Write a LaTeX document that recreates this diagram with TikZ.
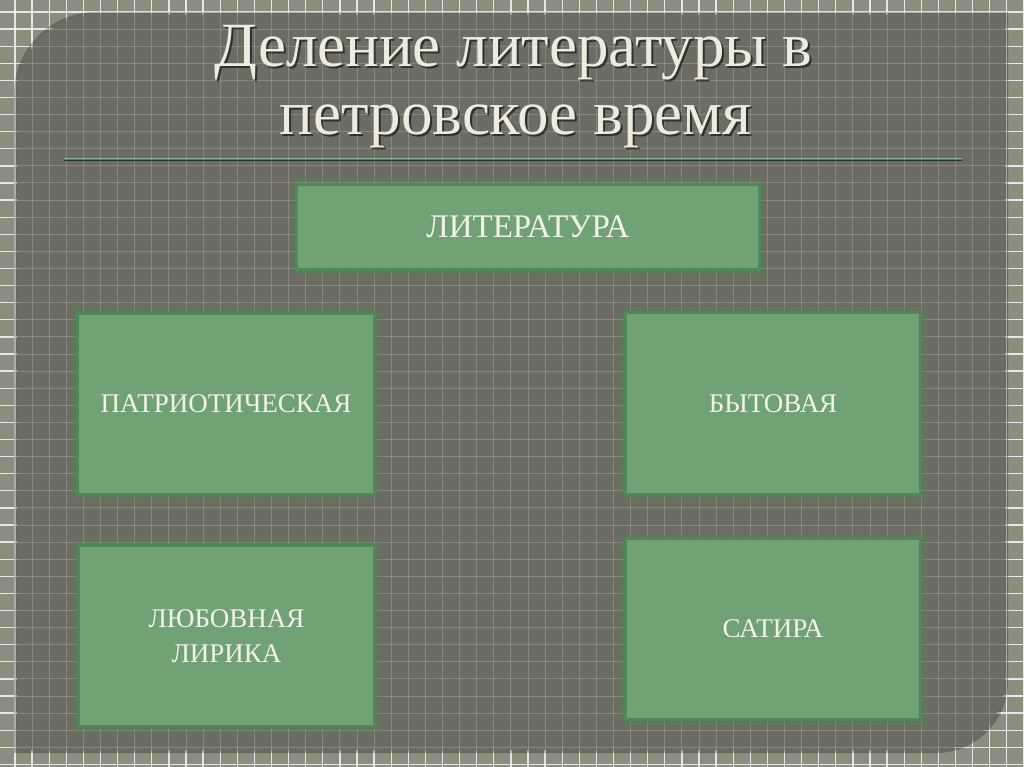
\documentclass[tikz,border=0pt]{standalone}
\usepackage{fontspec}
\setmainfont{Liberation Serif}
\definecolor{outerbg}{HTML}{8B8D7F}
\definecolor{panelc}{HTML}{6C6C62}
\definecolor{boxfill}{HTML}{71A276}
\definecolor{boxborder}{HTML}{4E8A58}
\definecolor{textc}{HTML}{F3F3EA}
\definecolor{titlec}{HTML}{ECEBDC}
\definecolor{sepgreen}{HTML}{86B38E}
\definecolor{sepdark}{HTML}{2A3328}
\tikzset{
  box/.style={draw=boxborder, fill=boxfill, line width=3pt, text=textc,
    font=\fontsize{27}{35}\selectfont, align=center, inner sep=0pt, outer sep=0pt},
  glow/.style={draw=boxborder, line width=9pt, opacity=0.25},
  titletext/.style={text=titlec, font=\fontsize{63}{66}\selectfont, anchor=base, inner sep=0pt},
  titleshadow/.style={text=black, opacity=0.55, font=\fontsize{63}{66}\selectfont, anchor=base, inner sep=0pt},
  gridout/.style={draw=white, line width=1.3pt, opacity=0.8},
  gridin/.style={draw=white, line width=1pt, opacity=0.18},
}
\begin{document}
\begin{tikzpicture}[x=1pt,y=-1pt]
\useasboundingbox (0,0) rectangle (1024,767);
% outer background
\fill[outerbg] (0,0) rectangle (1024,767);
\foreach \k in {0,...,59} { \draw[gridout] ({15+17.1*\k},0) -- ({15+17.1*\k},767); }
\foreach \k in {0,...,44} { \draw[gridout] (0,{12+17.1*\k}) -- (1024,{12+17.1*\k}); }
% panel shadow
\fill[black, opacity=0.25] (14,753) -- (14,300) [rounded corners=82pt] -- (14,12) -- (500,12) [sharp corners] -- (1008,12) -- (1008,400) [rounded corners=72pt] -- (1008,753) -- (600,753) [sharp corners] -- cycle;
% panel
\fill[panelc] (17,750) -- (17,300) [rounded corners=80pt] -- (17,15) -- (500,15) [sharp corners] -- (1005,15) -- (1005,400) [rounded corners=70pt] -- (1005,750) -- (600,750) [sharp corners] -- cycle;
\begin{scope}
\clip (17,750) -- (17,300) [rounded corners=80pt] -- (17,15) -- (500,15) [sharp corners] -- (1005,15) -- (1005,400) [rounded corners=70pt] -- (1005,750) -- (600,750) [sharp corners] -- cycle;
\foreach \k in {0,...,59} { \draw[gridin] ({15+17.1*\k},0) -- ({15+17.1*\k},767); }
\foreach \k in {0,...,44} { \draw[gridin] (0,{12+17.1*\k}) -- (1024,{12+17.1*\k}); }
\end{scope}
% title
\node[titleshadow] (t1s) at (515.5,69) {Деление литературы в};
\node[titletext] (t1) at (513.5,67) {Деление литературы в};
\node[titleshadow] (t2s) at (517.5,137) {петровское время};
\node[titletext] (t2) at (515.5,135) {петровское время};
% separator
\coordinate (sepL) at (64,158.3);
\coordinate (sepR) at (962,158.3);
\coordinate (sepL2) at (64,160.5);
\coordinate (sepR2) at (962,160.5);
\draw[sepgreen, line width=1.3pt] (sepL) -- (sepR);
\draw[sepdark, line width=1.6pt] (sepL2) -- (sepR2);
% boxes glow
\draw[glow] (295,183) rectangle (761,271);
\draw[glow] (76,312) rectangle (376,496);
\draw[glow] (624,311) rectangle (922,496);
\draw[glow] (77,544) rectangle (376,728);
\draw[glow] (624,537) rectangle (922,721);
% boxes
\node[box, minimum width=463pt, minimum height=85pt, font=\fontsize{33}{35}\selectfont] (lit) at (528,227) {ЛИТЕРАТУРА};
\node[box, minimum width=297pt, minimum height=181pt] (pat) at (226,404) {ПАТРИОТИЧЕСКАЯ};
\node[box, minimum width=295pt, minimum height=182pt] (byt) at (773,403.5) {БЫТОВАЯ};
\node[box, minimum width=296pt, minimum height=181pt] (lyub) at (226.5,636) {ЛЮБОВНАЯ\\ЛИРИКА};
\node[box, minimum width=295pt, minimum height=181pt] (sat) at (773,629) {САТИРА};
\end{tikzpicture}
\end{document}
